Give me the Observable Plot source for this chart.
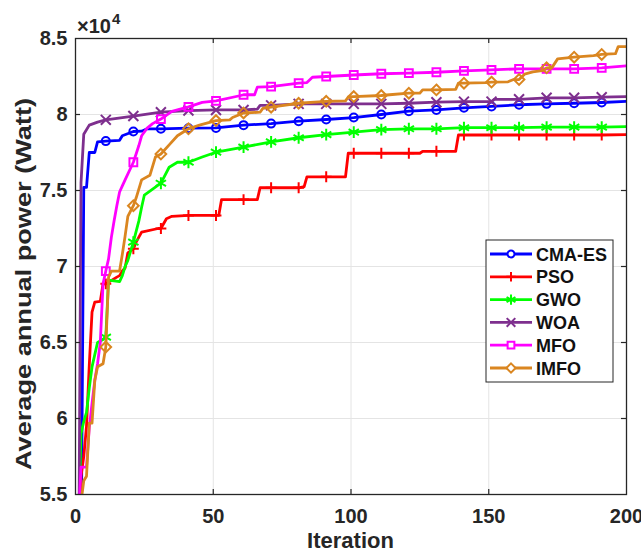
<!DOCTYPE html>
<html><head><meta charset="utf-8">
<script src="https://cdn.jsdelivr.net/npm/d3@7"></script>
<script src="https://cdn.jsdelivr.net/npm/@observablehq/plot@0.6"></script>
<style>
html,body{margin:0;padding:0;background:#fff;}
#chart{position:relative;width:641px;height:553px;}
</style></head><body><div id="chart"></div>
<script>
// ---- series metadata ----
const names = ["CMA-ES", "PSO", "GWO", "WOA", "MFO", "IMFO"];
const colors = ["#0000FF", "#FF0000", "#00FF00", "#7E2F8E", "#FF00FF", "#DA8620"];
const symbols = ["circle", "plus", "asterisk", "times", "square", "diamond2"];
const symbolR = [4, 3.6, 5.6, 4.6, 4.4, 4.8];

// ---- values (iteration, average annual power in W) ----
const cmaIter = [1,2,3,4,5,7,8,11,16,17,21,24,26,31,41,51,61,71,81,91,101,111,121,131,141,151,161,171,181,191,200];
const cmaVal  = [45000,50000,75200,75200,77500,77500,78200,78250,78300,78600,78880,78900,79060,79060,79100,79120,79300,79400,79560,79670,79800,80000,80220,80300,80440,80530,80640,80700,80740,80790,80870];

const psoIter = [1,2,3,4,5,6,7,9,10,11,15,16,17,18,19,21,22,24,30,31,33,35,41,51,52,53,61,66,67,71,81,83,84,91,98,99,101,111,121,125,126,131,138,139,141,151,161,171,181,191,200];
const psoVal  = [52000,56200,57500,59500,63500,67000,67650,67700,68860,68860,69300,69400,69700,69900,70900,71160,71600,72260,72500,72500,73140,73300,73360,73360,73360,74400,74400,74400,75180,75180,75180,75250,75900,75900,75900,77450,77450,77450,77450,77450,77580,77580,77580,78650,78650,78650,78650,78650,78650,78650,78680];

const gwoIter = [1,2,3,4,5,6,7,8,10,11,12,16,17,18,19,21,23,24,25,31,34,37,41,46,51,61,71,81,91,101,111,121,131,141,151,161,171,181,191,200];
const gwoVal  = [52000,59000,59800,60400,62000,63400,64200,65000,65200,65350,69100,69000,69400,70000,70400,71600,73000,73900,74700,75480,76530,76860,76860,77200,77520,77850,78200,78470,78680,78840,79000,79060,79060,79130,79130,79130,79170,79170,79170,79200];

const woaIter = [1,2,3,5,8,11,21,31,41,51,61,66,67,71,81,91,101,111,121,131,141,151,152,161,171,181,191,200];
const woaVal  = [45000,75500,78700,79300,79500,79650,79900,80150,80260,80300,80300,80350,80600,80600,80700,80700,80700,80700,80740,80810,80850,80850,81000,81000,81100,81100,81140,81180];

const mfoIter = [1,2,4,5,6,7,8,9,10,11,12,13,14,15,16,17,18,21,22,23,24,26,28,30,31,35,41,46,51,60,61,65,66,71,81,84,86,91,101,111,121,131,141,151,161,171,181,191,200];
const mfoVal  = [53000,56800,56800,59400,61000,62500,63600,65000,68860,69700,70500,71900,73000,74000,74900,75300,75700,76860,77400,77960,78600,79100,79400,79600,79700,80200,80500,80800,80900,81250,81300,81300,81800,81840,82060,82100,82450,82500,82600,82680,82720,82780,82870,82940,83000,83000,83000,83070,83200];

const imfoIter = [1,2,3,4,5,6,7,8,10,11,12,13,16,17,18,19,21,22,24,27,29,31,34,37,41,45,51,56,57,61,67,68,71,81,91,98,99,101,111,114,121,125,126,131,138,139,141,149,151,157,159,161,163,166,170,171,173,175,181,188,191,196,197,200];
const imfoVal  = [52000,54500,55900,56200,59700,59700,62500,63400,63600,64700,69300,69700,69700,70800,72000,73300,74000,74500,75700,76000,77200,77400,78000,78600,79060,79300,79600,79650,79800,80100,80150,80400,80480,80740,80870,80900,81150,81180,81250,81300,81400,81400,81620,81620,81650,82060,82060,82100,82130,82150,82300,82300,82650,82800,82900,83070,83100,83660,83770,83880,83950,84000,84470,84470];

const xTicks = [0, 50, 100, 150, 200];
const yTicks = [55000, 60000, 65000, 70000, 75000, 80000, 85000];

// ---- build a tidy table from the arrays ----
const iterArrays = [cmaIter, psoIter, gwoIter, woaIter, mfoIter, imfoIter];
const valArrays  = [cmaVal, psoVal, gwoVal, woaVal, mfoVal, imfoVal];
const series = names.map((name, i) => iterArrays[i].map((it, j) => ({series: name, iter: it, val: valArrays[i][j]})));

const W = 641, H = 553;
const mL = 75, mR = 15, mT = 38, mB = 59;
const plotH = H - mT - mB, plotW = W - mL - mR;
const FONT = "'Liberation Sans', Arial, Helvetica, sans-serif";
const AX = "#262626";

const marks = [
  Plot.ruleX(xTicks.slice(1, -1), {stroke: "#e4e4e4", strokeWidth: 1}),
  Plot.ruleY(yTicks.slice(1, -1), {stroke: "#e4e4e4", strokeWidth: 1})
];
series.forEach((data, i) => {
  marks.push(Plot.line(data, {x: "iter", y: "val", stroke: colors[i], strokeWidth: 2.8, clip: true, strokeLinejoin: "round"}));
  marks.push(Plot.dot(data.filter(d => (d.iter - 1) % 10 === 0), {
    x: "iter", y: "val", symbol: () => symbols[i], r: symbolR[i],
    stroke: colors[i], fill: "none", strokeWidth: 2, clip: true
  }));
});
marks.push(
  Plot.frame({stroke: AX, strokeWidth: 1.3}),
  Plot.ruleX(xTicks.slice(1, -1), {stroke: AX, strokeWidth: 1.2, insetTop: plotH - 5}),
  Plot.ruleX(xTicks.slice(1, -1), {stroke: AX, strokeWidth: 1.2, insetBottom: plotH - 5}),
  Plot.ruleY(yTicks.slice(1, -1), {stroke: AX, strokeWidth: 1.2, insetRight: plotW - 5}),
  Plot.ruleY(yTicks.slice(1, -1), {stroke: AX, strokeWidth: 1.2, insetLeft: plotW - 5}),
  Plot.axisX(xTicks, {tickSize: 0, tickPadding: 14, label: null, fontSize: 20, fontWeight: "bold", fill: AX}),
  Plot.axisY(yTicks, {tickSize: 0, tickPadding: 8, label: null, fontSize: 20, fontWeight: "bold", fill: AX,
    tickFormat: d => String(+(d / 1e4).toFixed(2))})
);

const chart = Plot.plot({
  width: W, height: H,
  marginLeft: mL, marginRight: mR, marginTop: mT, marginBottom: mB,
  x: {domain: [0, 200]},
  y: {domain: [55000, 85000]},
  style: {fontFamily: FONT, background: "#fff", overflow: "visible"},
  marks
});
document.getElementById("chart").appendChild(chart);

// ---- titles, exponent and legend ----
const svg = d3.select(chart);
function addText(x, y, size, txt, anchor) {
  return svg.append("text").attr("x", x).attr("y", y).attr("text-anchor", anchor)
    .attr("font-size", size).style("font-size", size + "px").attr("font-weight", "bold")
    .attr("fill", AX).attr("font-family", FONT).text(txt);
}
addText(mL + plotW / 2, 548, 22, "Iteration", "middle");
addText(0, 0, 22, "Average annual power (Watt)", "middle")
  .attr("transform", "translate(31,284) rotate(-90)")
  .attr("textLength", 372).attr("lengthAdjust", "spacingAndGlyphs");
addText(77, 33, 20, "\u00d710", "start");
addText(112, 24, 15, "4", "start");

const lg = svg.append("g").attr("transform", "translate(486,240)");
lg.append("rect").attr("width", 127).attr("height", 142).attr("fill", "#fff").attr("stroke", AX).attr("stroke-width", 1);
const d3sym = {circle: d3.symbolCircle, plus: d3.symbolPlus, asterisk: d3.symbolAsterisk, times: d3.symbolTimes, square: d3.symbolSquare, diamond2: d3.symbolDiamond2};
names.forEach((n, i) => {
  const cy = 14 + i * 22.8;
  const g = lg.append("g").attr("transform", `translate(0,${cy})`);
  g.append("line").attr("x1", 4).attr("x2", 46).attr("stroke", colors[i]).attr("stroke-width", 2.8);
  g.append("path").attr("transform", "translate(25,0)")
    .attr("d", d3.symbol(d3sym[symbols[i]], Math.PI * symbolR[i] * symbolR[i] * 0.75)())
    .attr("fill", "#fff").attr("stroke", colors[i]).attr("stroke-width", 2);
  g.append("text").attr("x", 50).attr("y", 6.5).attr("text-anchor", "start").style("font-size", "18px").attr("font-weight", "bold")
    .attr("fill", "#111").attr("font-family", FONT).text(n);
});
</script></body></html>
